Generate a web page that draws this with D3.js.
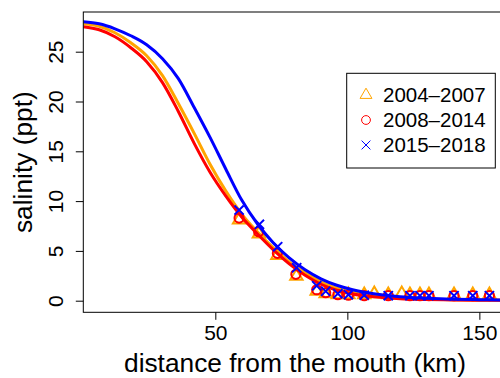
<!DOCTYPE html>
<html>
<head>
<meta charset="utf-8">
<script src="https://cdn.jsdelivr.net/npm/d3@7"></script>
<style>
  html, body { margin: 0; padding: 0; background: #fff; }
  svg { display: block; font-family: "Liberation Sans", Arial, Helvetica, sans-serif; }
</style>
</head>
<body>
<svg id="chart" width="500" height="378"></svg>
<script>
// Fitted salinity profiles along the estuary (km from the mouth -> ppt)
const fitKm   = [0, 6, 12, 18, 24, 30, 36, 42, 48, 54, 60, 66, 72, 78, 84, 90, 96, 102, 110, 120, 130, 140, 150, 160];
const fit2004 = [27.8, 27.55, 26.9, 25.9, 24.6, 22.6, 19.8, 16.8, 13.7, 11.0, 8.7, 6.9, 5.3, 3.9, 2.8, 1.9, 1.25, 0.85, 0.5, 0.27, 0.16, 0.1, 0.07, 0.05];
const fit2008 = [27.5, 27.2, 26.5, 25.4, 24.0, 21.9, 19.0, 15.8, 12.9, 10.5, 8.4, 6.7, 5.1, 3.7, 2.55, 1.65, 1.05, 0.68, 0.4, 0.2, 0.12, 0.08, 0.05, 0.03];
const fit2015 = [28.0, 27.8, 27.3, 26.6, 25.7, 24.3, 22.3, 19.4, 16.4, 13.2, 10.1, 7.7, 5.8, 4.3, 3.1, 2.2, 1.55, 1.1, 0.7, 0.4, 0.25, 0.15, 0.1, 0.07];

// Observed mean salinity at the sampling stations
const obsKm2004 = [59, 66.5, 73.5, 80.7, 88.4, 91.8, 96.4, 100.4, 106.4, 110.2, 115.5, 120.6, 123.7, 127.5, 130.9, 140.4, 147.5, 153.8];
const obs2004   = [8.1, 6.7, 4.55, 2.45, 0.95, 0.7, 0.6, 0.6, 0.6, 0.7, 0.6, 0.7, 0.6, 0.6, 0.6, 0.6, 0.6, 0.6];
const obsKm2008 = [59, 66.4, 73.5, 80.5, 88.4, 91.8, 96.4, 100.4, 106.4, 115.5, 123.7, 127.5, 130.9, 140.4, 147.5, 153.8];
const obs2008   = [8.3, 6.93, 4.76, 2.65, 1.1, 0.8, 0.6, 0.55, 0.5, 0.5, 0.5, 0.5, 0.5, 0.5, 0.5, 0.5];
const obsKm2015 = [59, 66.7, 73.6, 80.8, 88.4, 91.8, 96.4, 100.4, 106.4, 115.5, 123.7, 127.5, 130.9, 140.4, 147.5, 153.8];
const obs2015   = [9.1, 7.67, 5.42, 3.31, 1.5, 0.95, 0.7, 0.6, 0.55, 0.5, 0.5, 0.5, 0.5, 0.5, 0.5, 0.5];

const periods = ["2004\u20132007", "2008\u20132014", "2015\u20132018"];
const xTicks = [50, 100, 150];
const yTicks = [0, 5, 10, 15, 20, 25];

const svg = d3.select("#chart");
const plot = { left: 83.3, right: 510, top: 12, bottom: 312.3 };

const x = d3.scaleLinear().domain([0, 161.6]).range([plot.left, plot.right]);
const y = d3.scaleLinear().domain([0, 25]).range([300.7, 51.7]);

svg.append("defs").append("clipPath").attr("id", "plotClip")
  .append("rect")
  .attr("x", plot.left).attr("y", plot.top)
  .attr("width", plot.right - plot.left).attr("height", plot.bottom - plot.top);

// Marker shapes (R-style open symbols)
function triPath(r) {
  const xc = r * 1.3468, yc = r * 0.7776, rt = r * 1.5551;
  return `M0,${-rt}L${xc},${yc}L${-xc},${yc}Z`;
}
function crossPath(r) {
  return `M${-r},${-r}L${r},${r}M${-r},${r}L${r},${-r}`;
}

const series = [
  { name: periods[0], color: "#FFA500", km: obsKm2004, obs: obs2004, fit: fit2004, shape: "tri" },
  { name: periods[1], color: "#FF0000", km: obsKm2008, obs: obs2008, fit: fit2008, shape: "circle" },
  { name: periods[2], color: "#0000FF", km: obsKm2015, obs: obs2015, fit: fit2015, shape: "cross" }
];

function drawMarker(g, shape, color, r, sw) {
  if (shape === "circle") {
    g.append("circle").attr("r", r).attr("fill", "none").attr("stroke", color).attr("stroke-width", sw);
  } else if (shape === "tri") {
    g.append("path").attr("d", triPath(r)).attr("fill", "none").attr("stroke", color).attr("stroke-width", sw);
  } else {
    g.append("path").attr("d", crossPath(r)).attr("fill", "none").attr("stroke", color).attr("stroke-width", sw);
  }
}

const line = d3.line().x(d => x(d[0])).y(d => y(d[1])).curve(d3.curveMonotoneX);
const plotArea = svg.append("g").attr("clip-path", "url(#plotClip)");

series.forEach(s => {
  const pts = plotArea.append("g");
  s.km.forEach((k, i) => {
    const g = pts.append("g").attr("transform", `translate(${x(k)},${y(s.obs[i])})`);
    drawMarker(g, s.shape, s.color, 4.6, 2);
  });
  plotArea.append("path")
    .datum(fitKm.map((k, i) => [k, s.fit[i]]))
    .attr("d", line)
    .attr("fill", "none")
    .attr("stroke", s.color)
    .attr("stroke-width", 3);
});

// Plot frame
svg.append("rect")
  .attr("x", plot.left).attr("y", plot.top)
  .attr("width", plot.right - plot.left).attr("height", plot.bottom - plot.top)
  .attr("fill", "none").attr("stroke", "#000").attr("stroke-width", 1);

// X axis
const xAxis = svg.append("g").attr("transform", `translate(0,${plot.bottom})`)
  .call(d3.axisBottom(x).tickValues(xTicks).tickSize(7.5).tickPadding(5).tickFormat(d3.format("d")));
xAxis.select(".domain").remove();
xAxis.selectAll("line").attr("stroke", "#000");
xAxis.selectAll("text").attr("font-size", 21).attr("fill", "#000")
  .attr("font-family", "Liberation Sans, Arial, sans-serif");

// Y axis (labels parallel to the axis)
const yAxis = svg.append("g").attr("transform", `translate(${plot.left},0)`)
  .call(d3.axisLeft(y).tickValues(yTicks).tickSize(7.5).tickFormat(d3.format("d")));
yAxis.select(".domain").remove();
yAxis.selectAll("line").attr("stroke", "#000");
yAxis.selectAll("text")
  .attr("font-size", 21).attr("fill", "#000")
  .attr("font-family", "Liberation Sans, Arial, sans-serif")
  .attr("x", null).attr("dy", null)
  .attr("text-anchor", "middle")
  .attr("transform", "translate(-20.5,0) rotate(-90)");

// Axis titles
svg.append("text")
  .attr("x", (120 + 470) / 2).attr("y", 372)
  .attr("text-anchor", "middle").attr("font-size", 26.3).attr("fill", "#000")
  .text("distance from the mouth (km)");

svg.append("text")
  .attr("transform", `translate(32,${(plot.top + plot.bottom) / 2}) rotate(-90)`)
  .attr("text-anchor", "middle").attr("font-size", 26.3).attr("fill", "#000")
  .text("salinity (ppt)");

// Legend
const legend = svg.append("g");
legend.append("rect")
  .attr("x", 346.7).attr("y", 73.3).attr("width", 148.6).attr("height", 94.7)
  .attr("fill", "#fff").attr("stroke", "#000").attr("stroke-width", 1);
series.forEach((s, i) => {
  const cy = 95 + i * 25;
  const g = legend.append("g").attr("transform", `translate(366,${cy})`);
  drawMarker(g, s.shape, s.color, 4.4, 1);
  legend.append("text")
    .attr("x", 383).attr("y", cy).attr("dy", "0.36em")
    .attr("font-size", 20.5).attr("fill", "#000")
    .text(s.name);
});
</script>
</body>
</html>
